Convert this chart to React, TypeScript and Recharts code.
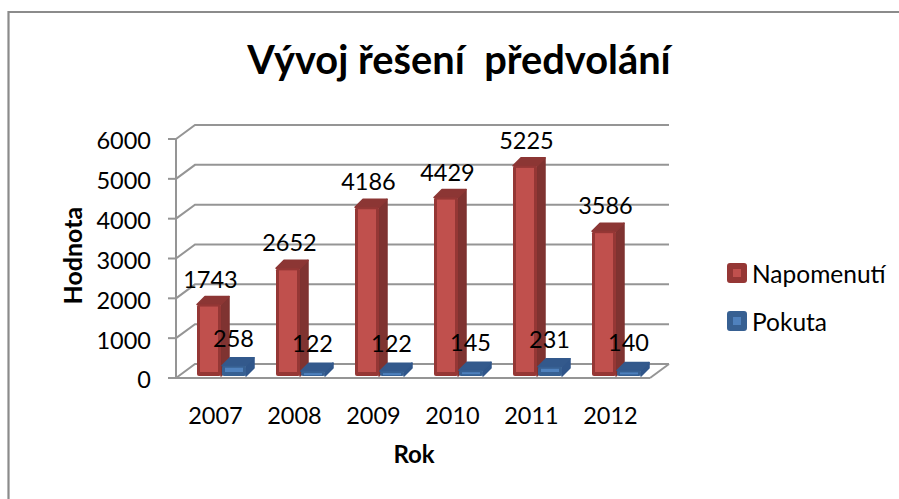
import React from "react";
import { BarChart, Bar, XAxis, YAxis, CartesianGrid, Legend, LabelList } from "recharts";

const years = ["2007", "2008", "2009", "2010", "2011", "2012"];
const napomenuti = [1743, 2652, 4186, 4429, 5225, 3586];
const pokuta = [258, 122, 122, 145, 231, 140];
const yTicks = [0, 1000, 2000, 3000, 4000, 5000, 6000];
const rows = years.map((rok, i) => ({ rok, Napomenutí: napomenuti[i], Pokuta: pokuta[i] }));

const FONT = "Lato, sans-serif";
const AXIS = "#959595";
const WALL_DX = 19;
const WALL_DY = 14;

const RED = { inner: "#c0504d", edge: "#953735", side: "#7f3331", top: "#8c3634" };
const BLUE = { inner: "#4f81bd", edge: "#376092", side: "#30568a", top: "#33598c" };

function makeBar(c: typeof RED, dy: number) {
  return (p: any) => {
    const depth = 8;
    const x = p.x + 6;
    const w = p.width;
    const top = p.y - dy;
    const bottom = p.y + p.height - 2;
    const innerH = Math.max(2, bottom - top - 6);
    const r = x + w;
    return (
      <g>
        <polygon
          points={`${r - 1},${top} ${r + depth - 1},${top - depth} ${r + depth - 1},${bottom - depth} ${r - 1},${bottom}`}
          fill={c.side}
          stroke={c.side}
          strokeWidth={1.5}
          strokeLinejoin="round"
        />
        <polygon
          points={`${x},${top} ${x + depth},${top - depth} ${r + depth - 1},${top - depth} ${r - 1},${top}`}
          fill={c.top}
          stroke={c.top}
          strokeWidth={1.5}
          strokeLinejoin="round"
        />
        <rect x={x} y={top} width={w - 1} height={bottom - top} rx={2} fill={c.edge} />
        <rect x={x + 3} y={top + 2} width={w - 7} height={innerH} fill={c.inner} />
      </g>
    );
  };
}

function makeLabel(shift: number) {
  return (p: any) => (
    <text
      x={p.x + p.width / 2 + shift}
      y={p.y - 30}
      textAnchor="middle"
      dominantBaseline="central"
      fontFamily={FONT}
      fontSize={23.5}
      fill="#000"
    >
      {p.value}
    </text>
  );
}

function wallLine(p: any) {
  const { x1, x2, y1, index } = p;
  const d = `M${x1},${y1} L${x1 + WALL_DX},${y1 - WALL_DY} L${x2 + WALL_DX},${y1 - WALL_DY}`;
  return (
    <g key={`wall-${index}-${y1}`}>
      <path d={d} fill="none" stroke={AXIS} strokeWidth={2} />
      {Math.abs(y1 - 378) < 1 ? (
        <line x1={x2} y1={y1} x2={x2 + WALL_DX} y2={y1 - WALL_DY} stroke={AXIS} strokeWidth={2} />
      ) : null}
    </g>
  );
}

function legendContent(p: any) {
  const colors = [RED, BLUE];
  return (
    <div style={{ fontFamily: FONT, fontSize: 24.5, color: "#000" }}>
      {p.payload.map((it: any, i: number) => (
        <div key={it.value} style={{ display: "flex", alignItems: "center", height: 20, marginBottom: 28, whiteSpace: "nowrap" }}>
          <span
            style={{
              display: "inline-block",
              boxSizing: "border-box",
              width: 20,
              height: 20,
              borderRadius: 3,
              border: `6px solid ${colors[i].edge}`,
              background: colors[i].inner,
              marginRight: 5,
            }}
          />
          {it.value}
        </div>
      ))}
    </div>
  );
}

export default function App() {
  return (
    <div style={{ position: "absolute", left: 0, top: 0, width: 899, height: 499, overflow: "hidden", background: "#fff" }}>
      <BarChart
        width={899}
        height={499}
        data={rows}
        margin={{ top: 139, right: 249, bottom: 0, left: 0 }}
        barSize={25}
        barGap={0}
      >
        <path d="M8.5,499 V12 H899" fill="none" stroke="#8b8b8b" strokeWidth={2.2} />
        <text x={459} y={58} textAnchor="middle" dominantBaseline="central" fontFamily={FONT} fontWeight={700} fontSize={39.8} fill="#000">
          {"Vývoj řešení\u00a0 předvolání"}
        </text>
        <CartesianGrid vertical={false} horizontal={wallLine as any} />
        <XAxis
          dataKey="rok"
          height={121}
          axisLine={{ stroke: AXIS, strokeWidth: 2 }}
          tickLine={false}
          tickMargin={23}
          tick={{ fontFamily: FONT, fontSize: 23.5, fill: "#000" }}
          interval={0}
          label={{ value: "Rok", position: "insideBottom", offset: 36, fontFamily: FONT, fontWeight: 700, fontSize: 24, fill: "#000", dx: 1 }}
        />
        <YAxis
          width={176}
          domain={[0, 6000]}
          ticks={yTicks}
          interval={0}
          axisLine={{ stroke: AXIS, strokeWidth: 2 }}
          tickLine={{ stroke: AXIS, strokeWidth: 2 }}
          tickSize={8}
          tickMargin={17}
          tick={{ fontFamily: FONT, fontSize: 23.5, fill: "#000", dy: 2 }}
          label={{ value: "Hodnota", angle: -90, position: "insideLeft", offset: 0, dx: 73, dy: 46, fontFamily: FONT, fontWeight: 700, fontSize: 25, fill: "#000" }}
        />
        <Legend
          layout="vertical"
          align="center"
          verticalAlign="middle"
          wrapperStyle={{ left: 727, top: 263, width: 170 }}
          content={legendContent as any}
        />
        <Bar dataKey="Napomenutí" fill={RED.inner} isAnimationActive={false} shape={makeBar(RED, 4) as any}>
          <LabelList dataKey="Napomenutí" content={makeLabel(7) as any} />
        </Bar>
        <Bar dataKey="Pokuta" fill={BLUE.inner} isAnimationActive={false} shape={makeBar(BLUE, 2) as any}>
          <LabelList dataKey="Pokuta" content={makeLabel(5) as any} />
        </Bar>
      </BarChart>
    </div>
  );
}
